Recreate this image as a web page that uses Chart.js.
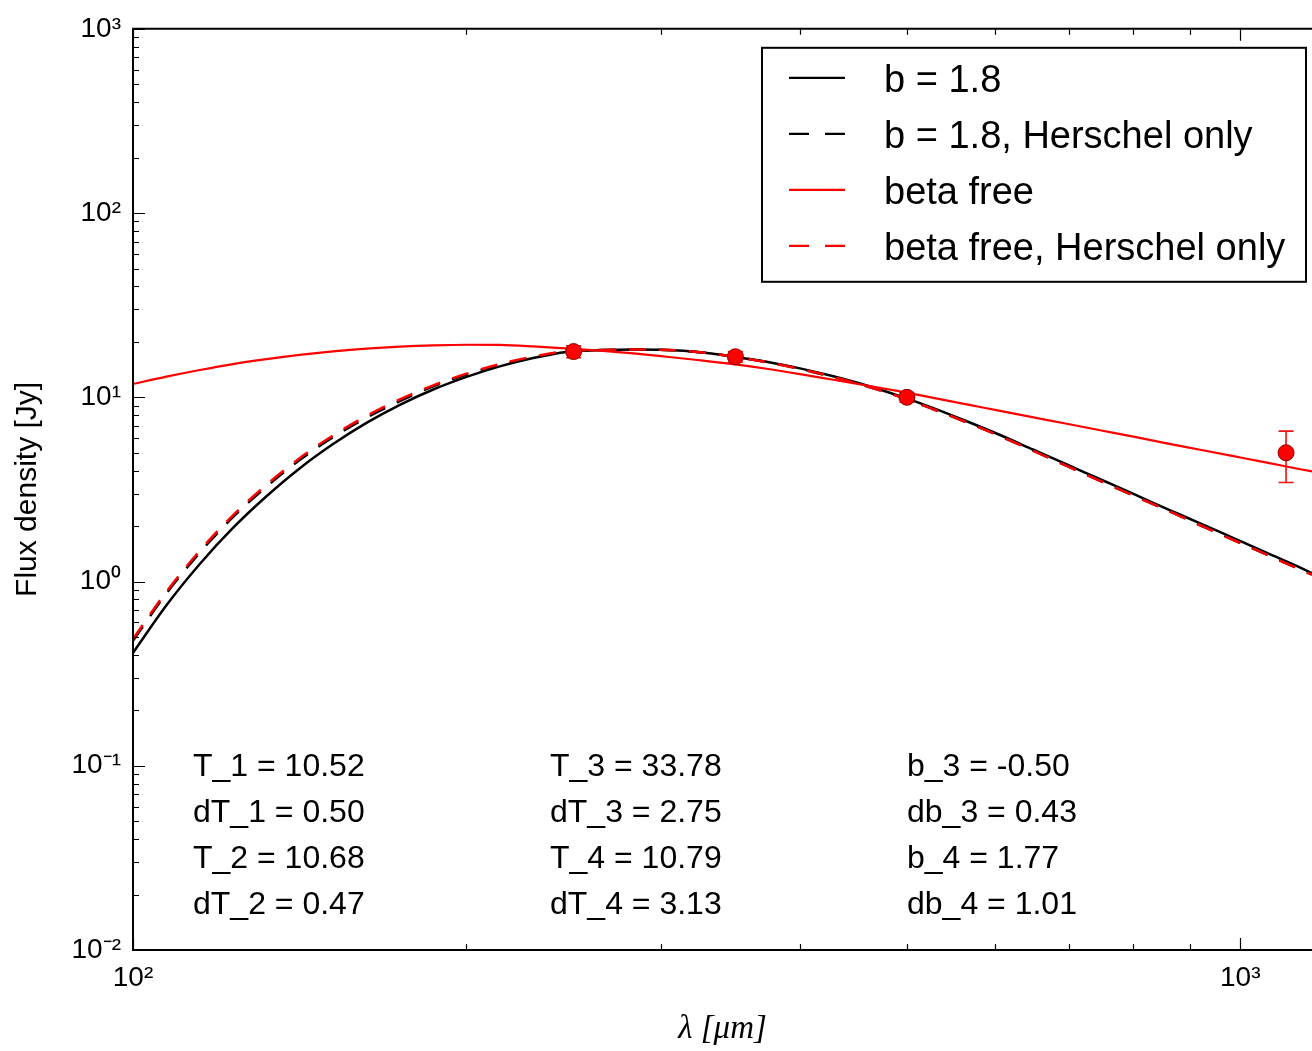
<!DOCTYPE html>
<html>
<head>
<meta charset="utf-8">
<script src="https://cdn.jsdelivr.net/npm/chart.js@4.4.0/dist/chart.umd.min.js"></script>
<style>
html,body{margin:0;padding:0;background:#fff;overflow:hidden;}
#wrap{width:1312px;height:1051px;position:relative;}
canvas{display:block;}
</style>
</head>
<body>
<div id="wrap"><canvas id="c"></canvas></div>
<script>
// ---- data ----
const wavelengths = [100,107.2,114.9,123.1,132.0,141.4,151.6,162.5,174.2,186.7,200.1,214.4,229.8,246.3,264.0,283.0,303.3,325.1,348.5,373.5,400.3,429.0,459.9,492.9,528.3,566.2,606.9,650.5,697.2,747.3,800.9,858.4,920.1,986.2,1057,1133,1161];
const fluxBeta18 = [0.410,0.743,1.245,1.954,2.904,4.111,5.572,7.261,9.099,11.02,12.91,14.72,16.33,17.62,17.99,18.16,18.07,17.58,16.63,15.60,14.35,13.00,11.59,10.14,8.73,7.41,6.24,5.19,4.32,3.59,2.99,2.48,2.07,1.72,1.43,1.19,1.11];
const fluxBeta18Herschel = [0.477,0.861,1.435,2.234,3.27,4.56,6.07,7.74,9.53,11.48,13.28,14.97,16.44,17.78,18.07,18.16,18.07,17.58,16.63,15.52,14.26,12.88,11.48,10.05,8.61,7.31,6.15,5.12,4.24,3.52,2.93,2.44,2.02,1.68,1.40,1.16,1.09];
const fluxBetaFree = [11.80,12.94,14.06,15.14,16.11,16.98,17.74,18.37,18.84,19.14,19.28,19.23,18.88,18.41,17.91,17.30,16.60,15.89,15.14,14.29,13.37,12.45,11.59,10.76,9.93,9.16,8.43,7.78,7.18,6.62,6.11,5.62,5.19,4.79,4.42,4.07,3.96];
const fluxBetaFreeHerschel = [0.488,0.881,1.469,2.286,3.350,4.667,6.209,7.925,9.750,11.61,13.43,15.14,16.63,17.78,18.07,18.16,18.07,17.58,16.63,15.52,14.26,12.88,11.48,10.05,8.61,7.31,6.15,5.12,4.24,3.52,2.93,2.44,2.02,1.68,1.40,1.16,1.09];

const obsWavelengths = [250,350,500,1100];
const obsFlux = [17.7,16.6,10.0,5.0];
const obsErr = [1.3,1.1,0.6,1.55];

const seriesLabels = ['b = 1.8','b = 1.8, Herschel only','beta free','beta free, Herschel only'];

const xTickValues = [100,1000];
const xTickLabels = ['10²','10³'];
const yTickValues = [0.01,0.1,1,10,100,1000];
const yTickLabels = ['10⁻²','10⁻¹','10⁰','10¹','10²','10³'];

const statCol1 = ['T_1 = 10.52','dT_1 = 0.50','T_2 = 10.68','dT_2 = 0.47'];
const statCol2 = ['T_3 = 33.78','dT_3 = 2.75','T_4 = 10.79','dT_4 = 3.13'];
const statCol3 = ['b_3 = -0.50','db_3 = 0.43','b_4 = 1.77','db_4 = 1.01'];

// ---- helpers ----
const toXY = (xs, ys) => xs.map((x, i) => ({x: x, y: ys[i]}));
function logTickPositions(min, max) {
  const out = [];
  for (let e = Math.floor(Math.log10(min)); e <= Math.ceil(Math.log10(max)); e++) {
    for (let m = 1; m < 10; m++) {
      const v = m * Math.pow(10, e);
      if (v >= min * 0.9999 && v <= max * 1.0001) out.push({v: v, major: m === 1});
    }
  }
  return out;
}
const DASH = [17, 13];
const SANS = "'Liberation Sans', Arial, sans-serif";

// ---- plugins ----
const errorBarPlugin = {
  id: 'errorBars',
  beforeDatasetDraw(chart, args) {
    const ds = chart.data.datasets[args.index];
    if (!ds.errors) return;
    const {ctx, scales: {x, y}} = chart;
    ctx.save();
    ctx.strokeStyle = ds.errorColor;
    ctx.lineWidth = 1.6;
    ds.data.forEach((p, i) => {
      const e = ds.errors[i];
      const px = x.getPixelForValue(p.x);
      const yTop = y.getPixelForValue(p.y + e);
      const yBot = y.getPixelForValue(p.y - e);
      ctx.beginPath();
      ctx.moveTo(px, yTop); ctx.lineTo(px, yBot);
      ctx.moveTo(px - 7.5, yTop); ctx.lineTo(px + 7.5, yTop);
      ctx.moveTo(px - 7.5, yBot); ctx.lineTo(px + 7.5, yBot);
      ctx.stroke();
    });
    ctx.restore();
  }
};

// frame and inward ticks (the right side of the axes box lies beyond the cropped picture)
const frameTicksPlugin = {
  id: 'frameTicks',
  afterDatasetsDraw(chart) {
    const {ctx, chartArea: a, scales: {x, y}} = chart;
    ctx.save();
    ctx.strokeStyle = '#000';
    ctx.lineWidth = 1.2;
    ctx.beginPath();
    logTickPositions(x.min, x.max).forEach(t => {
      const px = Math.round(x.getPixelForValue(t.v)) + 0.5;
      const L = t.major ? 12 : 6;
      ctx.moveTo(px, a.bottom); ctx.lineTo(px, a.bottom - L);
      ctx.moveTo(px, a.top); ctx.lineTo(px, a.top + L);
    });
    logTickPositions(y.min, y.max).forEach(t => {
      const py = Math.round(y.getPixelForValue(t.v)) + 0.5;
      const L = t.major ? 12 : 6;
      ctx.moveTo(a.left, py); ctx.lineTo(a.left + L, py);
    });
    ctx.stroke();
    ctx.lineWidth = 2;
    ctx.beginPath();
    ctx.moveTo(a.right + 2, a.top);
    ctx.lineTo(a.left, a.top);
    ctx.lineTo(a.left, a.bottom);
    ctx.lineTo(a.right + 2, a.bottom);
    ctx.stroke();
    ctx.restore();
  }
};

const legendBoxPlugin = {
  id: 'legendBox',
  afterDraw(chart) {
    const {ctx, chartArea: a} = chart;
    const w = 544, h = 234;
    const left = a.right - 6 - w, top = a.top + 19;
    ctx.save();
    ctx.fillStyle = '#fff';
    ctx.fillRect(left, top, w, h);
    ctx.strokeStyle = '#000';
    ctx.lineWidth = 2;
    ctx.strokeRect(left, top, w, h);
    const entries = chart.data.datasets.filter(d => d.inLegend);
    entries.forEach((d, i) => {
      const cy = top + 30 + i * 56;
      ctx.beginPath();
      ctx.strokeStyle = d.borderColor;
      ctx.lineWidth = 2.2;
      ctx.setLineDash(d.borderDash && d.borderDash.length ? [20, 16] : []);
      ctx.moveTo(left + 27, cy); ctx.lineTo(left + 83, cy);
      ctx.stroke();
      ctx.setLineDash([]);
      ctx.fillStyle = '#000';
      ctx.font = '38px ' + SANS;
      ctx.textBaseline = 'alphabetic';
      ctx.textAlign = 'left';
      ctx.fillText(d.label, left + 122, cy + 14);
    });
    ctx.restore();
  }
};

const statsPlugin = {
  id: 'stats',
  afterDraw(chart) {
    const {ctx, chartArea: a} = chart;
    ctx.save();
    ctx.fillStyle = '#000';
    ctx.font = '32px ' + SANS;
    ctx.textAlign = 'left';
    ctx.textBaseline = 'alphabetic';
    const colX = [60, 417, 774];
    [statCol1, statCol2, statCol3].forEach((col, c) => {
      col.forEach((txt, r) => {
        ctx.fillText(txt, a.left + colX[c], a.top + 747 + r * 46);
      });
    });
    ctx.restore();
  }
};

// ---- chart ----
const lineBase = {type: 'line', pointRadius: 0, borderWidth: 2.5, fill: false, cubicInterpolationMode: 'monotone', inLegend: true};

new Chart(document.getElementById('c'), {
  type: 'line',
  data: {
    datasets: [
      Object.assign({}, lineBase, {label: seriesLabels[0], data: toXY(wavelengths, fluxBeta18), borderColor: '#000000', order: 4}),
      Object.assign({}, lineBase, {label: seriesLabels[1], data: toXY(wavelengths, fluxBeta18Herschel), borderColor: '#000000', borderDash: DASH, order: 3}),
      Object.assign({}, lineBase, {label: seriesLabels[2], data: toXY(wavelengths, fluxBetaFree), borderColor: '#ff0000', borderWidth: 2.2, order: 2}),
      Object.assign({}, lineBase, {label: seriesLabels[3], data: toXY(wavelengths, fluxBetaFreeHerschel), borderColor: '#ff0000', borderDash: DASH, order: 1}),
      {type: 'scatter', label: 'observed', data: toXY(obsWavelengths, obsFlux), errors: obsErr, errorColor: '#ee1111',
       pointRadius: 8, pointBackgroundColor: '#ff0000', pointBorderColor: '#8b0000', pointBorderWidth: 1, showLine: false, order: 0, inLegend: false}
    ]
  },
  options: {
    responsive: true,
    maintainAspectRatio: false,
    devicePixelRatio: 1,
    animation: false,
    layout: {autoPadding: false, padding: {top: 28, left: 0, right: 0, bottom: 0}},
    plugins: {legend: {display: false}, tooltip: {enabled: false}},
    scales: {
      x: {
        type: 'logarithmic', min: 100, max: 1161,
        grid: {display: false, drawTicks: false},
        border: {display: false},
        afterBuildTicks: s => { s.ticks = xTickValues.map(v => ({value: v})); },
        afterFit: s => { s.height = 101; s.paddingLeft = 0; s.paddingRight = 0; },
        ticks: {autoSkip: false, maxRotation: 0, padding: 11, color: '#000',
                font: {family: SANS, size: 28}, callback: (v, i) => xTickLabels[i]},
        title: {display: true, text: 'λ [μm]', color: '#000',
                font: {family: "'Liberation Serif', 'DejaVu Serif', serif", size: 33, style: 'italic'},
                padding: {top: 0, bottom: 2}}
      },
      y: {
        type: 'logarithmic', min: 0.01, max: 1000,
        grid: {display: false, drawTicks: false},
        border: {display: false},
        afterBuildTicks: s => { s.ticks = yTickValues.map(v => ({value: v})); },
        afterFit: s => { s.width = 133; },
        ticks: {autoSkip: false, padding: 12, color: '#000',
                font: {family: SANS, size: 28}, callback: (v, i) => yTickLabels[i]},
        title: {display: true, text: 'Flux density [Jy]', color: '#000',
                font: {family: SANS, size: 30}, padding: {top: 10, bottom: 0}}
      }
    }
  },
  plugins: [errorBarPlugin, frameTicksPlugin, legendBoxPlugin, statsPlugin]
});
</script>
</body>
</html>
